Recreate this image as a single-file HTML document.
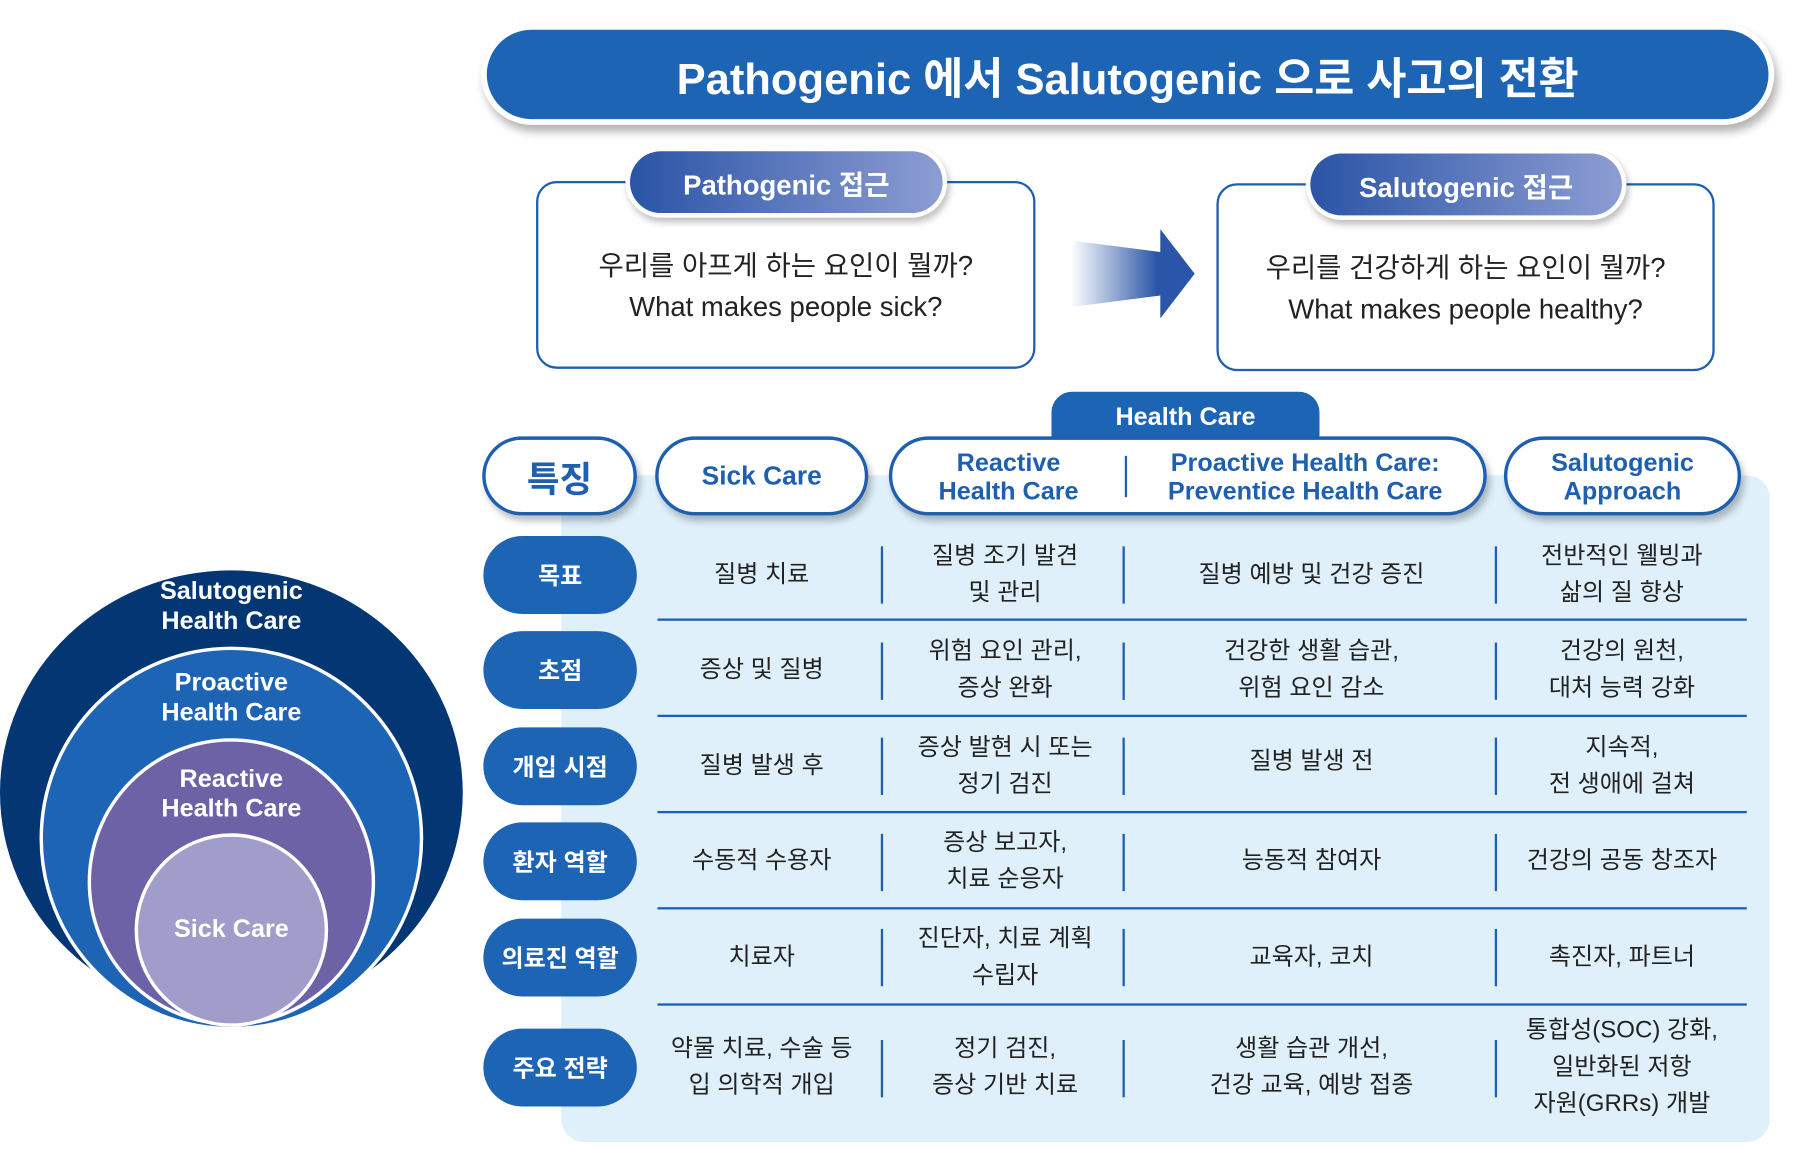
<!DOCTYPE html>
<html><head><meta charset="utf-8"><style>
html,body{margin:0;padding:0;background:#fff;width:1796px;height:1149px;overflow:hidden}
#s{position:absolute;left:0;top:0;width:1568px;height:1003px;transform:scale(1.14541);transform-origin:0 0;font-family:"Liberation Sans","Noto Sans CJK KR",sans-serif}
.a{position:absolute;box-sizing:border-box}
.c{display:flex;align-items:center;justify-content:center;text-align:center}
.pill{background:#fff;border:3px solid #1e5fb0;border-radius:40px;color:#1e5fb0;font-weight:bold;box-shadow:3px 5px 6px rgba(0,0,0,.25)}
.lab{background:#1e64b4;border-radius:34px;color:#fff;font-weight:bold;font-size:21px;left:422px;width:134px;height:68px}
.t{font-size:21px;color:#222;line-height:32px}
.hl{position:absolute;left:574px;width:951px;height:2px;background:#1e5fb0}
.vl{position:absolute;width:2px;height:50px;background:#1e5fb0}
</style></head><body><div id="s">
<div class="a c" style="left:420px;top:21px;width:1129px;height:88px;border-radius:44px;background:#fff;box-shadow:3px 6px 8px rgba(0,0,0,.3)"></div>
<div class="a c" style="left:425px;top:26px;width:1119px;height:78px;border-radius:39px;background:#1e64b4;color:#fff;font-weight:bold;font-size:38px">Pathogenic 에서 Salutogenic 으로 사고의 전환</div>
<div class="a c t" style="left:468px;top:158px;width:436px;height:164px;border:2px solid #1e5fb0;border-radius:18px;font-size:24px;line-height:36px;padding-top:22px">우리를 아프게 하는 요인이 뭘까?<br>What makes people sick?</div>
<div class="a c" style="left:546px;top:128px;width:281px;height:62px;border-radius:31px;background:#fff;box-shadow:2px 4px 6px rgba(0,0,0,.25)"></div>
<div class="a c" style="left:550px;top:132px;width:273px;height:54px;border-radius:27px;background:linear-gradient(90deg,#2a54a6,#8d9dd3);color:#fff;font-weight:bold;font-size:24px">Pathogenic 접근</div>
<div class="a c t" style="left:1062px;top:160px;width:435px;height:164px;border:2px solid #1e5fb0;border-radius:18px;font-size:24px;line-height:36px;padding-top:22px">우리를 건강하게 하는 요인이 뭘까?<br>What makes people healthy?</div>
<div class="a c" style="left:1140px;top:130px;width:280px;height:62px;border-radius:31px;background:#fff;box-shadow:2px 4px 6px rgba(0,0,0,.25)"></div>
<div class="a c" style="left:1144px;top:134px;width:272px;height:54px;border-radius:27px;background:linear-gradient(90deg,#2a54a6,#8d9dd3);color:#fff;font-weight:bold;font-size:24px">Salutogenic 접근</div>
<svg class="a" style="left:930px;top:195px" width="120" height="90"><defs><linearGradient id="g" x1="0" x2="1"><stop offset="0" stop-color="#2a55a8" stop-opacity="0"/><stop offset="0.7" stop-color="#2a55a8"/></linearGradient></defs><polygon points="5,15 83,25 83,5 113,44 83,83 83,63 5,73" fill="url(#g)"/></svg>
<div class="a" style="left:490px;top:415px;width:1055px;height:582px;background:#dff0fb;border-radius:20px"></div>
<div class="a c" style="left:918px;top:342px;width:234px;height:44px;background:#1e64b4;border-radius:18px 18px 0 0;color:#fff;font-weight:bold;font-size:22px">Health Care</div>
<div class="a c pill" style="left:421px;top:381px;width:135px;height:69px;font-size:31px">특징</div>
<div class="a c pill" style="left:572px;top:381px;width:186px;height:69px;font-size:23px">Sick Care</div>
<div class="a pill" style="left:776px;top:381px;width:522px;height:69px;font-size:22px;line-height:25px">
<div class="a c" style="left:0;top:0;width:203px;height:63px">Reactive<br>Health Care</div>
<div class="a" style="left:203px;top:14px;width:2px;height:36px;background:#1e5fb0"></div>
<div class="a c" style="left:205px;top:0;width:311px;height:63px">Proactive Health Care:<br>Preventice Health Care</div></div>
<div class="a c pill" style="left:1313px;top:381px;width:207px;height:69px;font-size:22px;line-height:25px">Salutogenic<br>Approach</div>
<div class="a c lab" style="top:468px">목표</div>
<div class="a c lab" style="top:551px">초점</div>
<div class="a c lab" style="top:635px">개입 시점</div>
<div class="a c lab" style="top:718px">환자 역할</div>
<div class="a c lab" style="top:802px">의료진 역할</div>
<div class="a c lab" style="top:898px">주요 전략</div>
<div class="hl" style="top:540px"></div><div class="hl" style="top:624px"></div><div class="hl" style="top:708px"></div><div class="hl" style="top:792px"></div><div class="hl" style="top:876px"></div>
<div class="vl" style="left:769px;top:477px"></div><div class="vl" style="left:980px;top:477px"></div><div class="vl" style="left:1305px;top:477px"></div>
<div class="vl" style="left:769px;top:561px"></div><div class="vl" style="left:980px;top:561px"></div><div class="vl" style="left:1305px;top:561px"></div>
<div class="vl" style="left:769px;top:644px"></div><div class="vl" style="left:980px;top:644px"></div><div class="vl" style="left:1305px;top:644px"></div>
<div class="vl" style="left:769px;top:728px"></div><div class="vl" style="left:980px;top:728px"></div><div class="vl" style="left:1305px;top:728px"></div>
<div class="vl" style="left:769px;top:811px"></div><div class="vl" style="left:980px;top:811px"></div><div class="vl" style="left:1305px;top:811px"></div>
<div class="vl" style="left:769px;top:908px"></div><div class="vl" style="left:980px;top:908px"></div><div class="vl" style="left:1305px;top:908px"></div>

<div class="a c t" style="left:565px;top:462px;width:200px;height:80px">질병 치료</div>
<div class="a c t" style="left:775px;top:462px;width:205px;height:80px">질병 조기 발견<br>및 관리</div>
<div class="a c t" style="left:985px;top:462px;width:320px;height:80px">질병 예방 및 건강 증진</div>
<div class="a c t" style="left:1310px;top:462px;width:212px;height:80px">전반적인 웰빙과<br>삶의 질 향상</div>

<div class="a c t" style="left:565px;top:545px;width:200px;height:80px">증상 및 질병</div>
<div class="a c t" style="left:775px;top:545px;width:205px;height:80px">위험 요인 관리,<br>증상 완화</div>
<div class="a c t" style="left:985px;top:545px;width:320px;height:80px">건강한 생활 습관,<br>위험 요인 감소</div>
<div class="a c t" style="left:1310px;top:545px;width:212px;height:80px">건강의 원천,<br>대처 능력 강화</div>

<div class="a c t" style="left:565px;top:629px;width:200px;height:80px">질병 발생 후</div>
<div class="a c t" style="left:775px;top:629px;width:205px;height:80px">증상 발현 시 또는<br>정기 검진</div>
<div class="a c t" style="left:985px;top:625px;width:320px;height:80px">질병 발생 전</div>
<div class="a c t" style="left:1310px;top:629px;width:212px;height:80px">지속적,<br>전 생애에 걸쳐</div>

<div class="a c t" style="left:565px;top:712px;width:200px;height:80px">수동적 수용자</div>
<div class="a c t" style="left:775px;top:712px;width:205px;height:80px">증상 보고자,<br>치료 순응자</div>
<div class="a c t" style="left:985px;top:712px;width:320px;height:80px">능동적 참여자</div>
<div class="a c t" style="left:1310px;top:712px;width:212px;height:80px">건강의 공동 창조자</div>

<div class="a c t" style="left:565px;top:796px;width:200px;height:80px">치료자</div>
<div class="a c t" style="left:775px;top:796px;width:205px;height:80px">진단자, 치료 계획<br>수립자</div>
<div class="a c t" style="left:985px;top:796px;width:320px;height:80px">교육자, 코치</div>
<div class="a c t" style="left:1310px;top:796px;width:212px;height:80px">촉진자, 파트너</div>

<div class="a c t" style="left:565px;top:892px;width:200px;height:80px">약물 치료, 수술 등<br>입 의학적 개입</div>
<div class="a c t" style="left:775px;top:892px;width:205px;height:80px">정기 검진,<br>증상 기반 치료</div>
<div class="a c t" style="left:985px;top:892px;width:320px;height:80px">생활 습관 개선,<br>건강 교육, 예방 접종</div>
<div class="a c t" style="left:1310px;top:884px;width:212px;height:96px">통합성(SOC) 강화,<br>일반화된 저항<br>자원(GRRs) 개발</div>

<svg class="a" style="left:0;top:480px" width="410" height="420">
<ellipse cx="202" cy="212" rx="202" ry="194" fill="#033672"/>
<circle cx="202" cy="252" r="166" fill="#1e64b4" stroke="#fff" stroke-width="3"/>
<circle cx="202" cy="290" r="124" fill="#6e62a6" stroke="#fff" stroke-width="3"/>
<circle cx="202" cy="332" r="83" fill="#a09dca" stroke="#fff" stroke-width="3"/>
<g fill="#fff" font-weight="bold" font-size="22" text-anchor="middle" font-family="Liberation Sans,sans-serif">
<text x="202" y="43">Salutogenic</text><text x="202" y="69">Health Care</text>
<text x="202" y="123">Proactive</text><text x="202" y="149">Health Care</text>
<text x="202" y="207">Reactive</text><text x="202" y="233">Health Care</text>
<text x="202" y="338">Sick Care</text></g></svg>
</div></body></html>
